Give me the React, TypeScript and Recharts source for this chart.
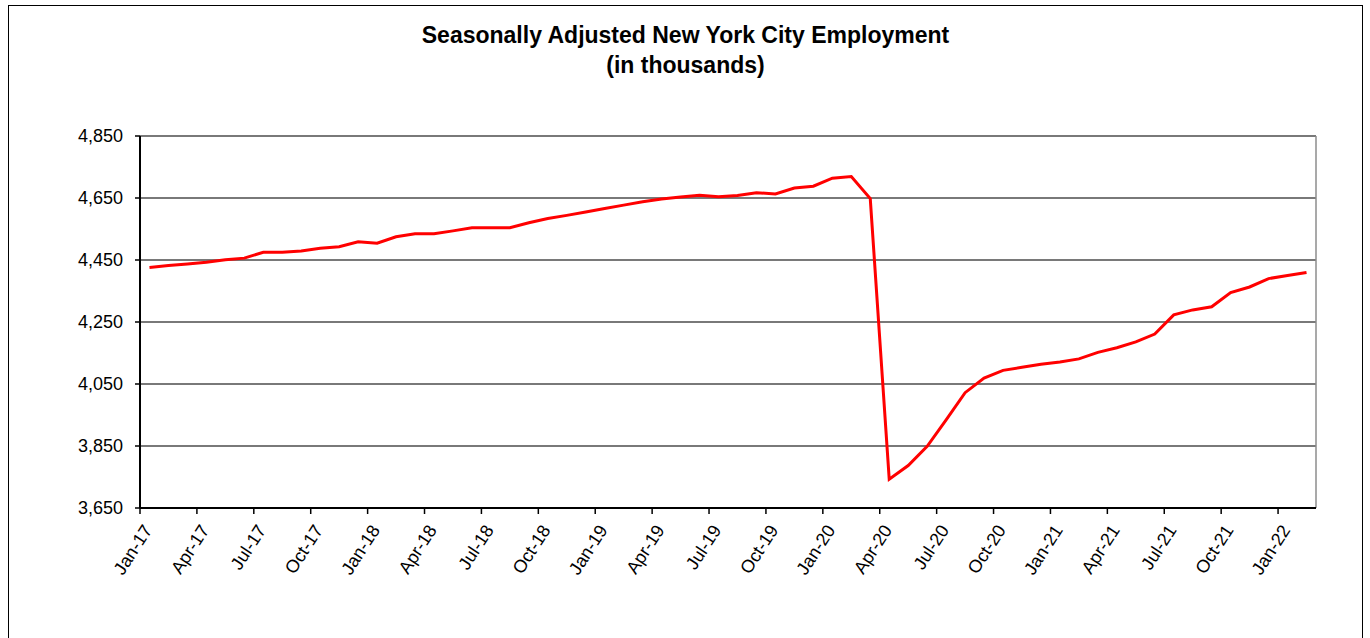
import React from "react";
import {
  LineChart,
  Line,
  XAxis,
  YAxis,
  CartesianGrid,
  ReferenceLine,
} from "recharts";

const months = [
  "Jan-17", "Feb-17", "Mar-17", "Apr-17", "May-17", "Jun-17", "Jul-17", "Aug-17", "Sep-17", "Oct-17", "Nov-17", "Dec-17",
  "Jan-18", "Feb-18", "Mar-18", "Apr-18", "May-18", "Jun-18", "Jul-18", "Aug-18", "Sep-18", "Oct-18", "Nov-18", "Dec-18",
  "Jan-19", "Feb-19", "Mar-19", "Apr-19", "May-19", "Jun-19", "Jul-19", "Aug-19", "Sep-19", "Oct-19", "Nov-19", "Dec-19",
  "Jan-20", "Feb-20", "Mar-20", "Apr-20", "May-20", "Jun-20", "Jul-20", "Aug-20", "Sep-20", "Oct-20", "Nov-20", "Dec-20",
  "Jan-21", "Feb-21", "Mar-21", "Apr-21", "May-21", "Jun-21", "Jul-21", "Aug-21", "Sep-21", "Oct-21", "Nov-21", "Dec-21",
  "Jan-22", "Feb-22",
];

// employment, thousands
const employment = [
  4426, 4432, 4437, 4443, 4451, 4456, 4475, 4475, 4479, 4488, 4493, 4509,
  4504, 4525, 4535, 4535, 4544, 4554, 4554, 4554, 4570, 4584, 4594, 4605,
  4616, 4627, 4638, 4647, 4653, 4659, 4654, 4658, 4667, 4663, 4682, 4688,
  4714, 4719, 4648, 3743, 3787, 3849, 3934, 4022, 4069, 4094, 4104, 4114,
  4121, 4131, 4152, 4167, 4186, 4211, 4273, 4289, 4299, 4345, 4363, 4390,
  4400, 4410,
];

const xTickLabels = [
  "Jan-17", "Apr-17", "Jul-17", "Oct-17",
  "Jan-18", "Apr-18", "Jul-18", "Oct-18",
  "Jan-19", "Apr-19", "Jul-19", "Oct-19",
  "Jan-20", "Apr-20", "Jul-20", "Oct-20",
  "Jan-21", "Apr-21", "Jul-21", "Oct-21",
  "Jan-22",
];

const yTicks = [3650, 3850, 4050, 4250, 4450, 4650, 4850];

const FONT = '"Liberation Sans", Arial, sans-serif';

const data = months.map((m, i) => ({ month: m, idx: i, value: employment[i] }));

// ticks sit on the left edge of each month's slot
const xTicks = xTickLabels.map((l) => months.indexOf(l) - 0.5);

const XTick = (props: any) => {
  const { x, y, payload } = props;
  const label = months[Math.round(payload.value + 0.5)];
  const ax = x + 13;
  const ay = y + 14;
  return (
    <text
      x={ax}
      y={ay}
      transform={`rotate(-57 ${ax} ${ay})`}
      textAnchor="end"
      fontSize={18}
      fontFamily={FONT}
      fill="#000"
    >
      {label}
    </text>
  );
};

const App = () => {
  return (
    <div
      style={{
        position: "absolute",
        left: 8,
        top: 5,
        width: 1355,
        height: 633,
        border: "1px solid #000",
        borderBottom: "none",
        boxSizing: "border-box",
        background: "#fff",
      }}
    >
      <div
        style={{
          position: "absolute",
          left: 0,
          right: 0,
          top: 14,
          textAlign: "center",
          fontFamily: FONT,
          fontWeight: "bold",
          fontSize: 23,
          lineHeight: "30px",
          color: "#000",
        }}
      >
        Seasonally Adjusted New York City Employment
        <br />
        (in thousands)
      </div>
      <LineChart
        width={1353}
        height={620}
        data={data}
        margin={{ top: 130, right: 46, bottom: 18, left: 0 }}
      >
        <CartesianGrid
          vertical={false}
          stroke="#4d4d4d"
          strokeWidth={1.5}
        />
        <XAxis
          type="number"
          dataKey="idx"
          domain={[-0.5, months.length - 0.5]}
          ticks={xTicks}
          interval={0}
          height={100}
          tick={<XTick />}
          tickSize={6}
          axisLine={{ stroke: "#000", strokeWidth: 2 }}
          tickLine={{ stroke: "#000", strokeWidth: 1.5 }}
          allowDataOverflow
        />
        <YAxis
          type="number"
          domain={[3650, 4850]}
          ticks={yTicks}
          interval={0}
          width={131}
          tickSize={5}
          tickMargin={12}
          tickFormatter={(v: number) => v.toLocaleString("en-US")}
          tick={{ fill: "#000", fontSize: 18, fontFamily: FONT }}
          axisLine={{ stroke: "#000", strokeWidth: 2 }}
          tickLine={{ stroke: "#000", strokeWidth: 1.5 }}
          allowDataOverflow
        />
        <ReferenceLine x={months.length - 0.5} stroke="#8c8c8c" strokeWidth={1.5} />
        <Line
          type="linear"
          dataKey="value"
          stroke="#ff0000"
          strokeWidth={3}
          dot={false}
          isAnimationActive={false}
        />
      </LineChart>
    </div>
  );
};

export default App;
